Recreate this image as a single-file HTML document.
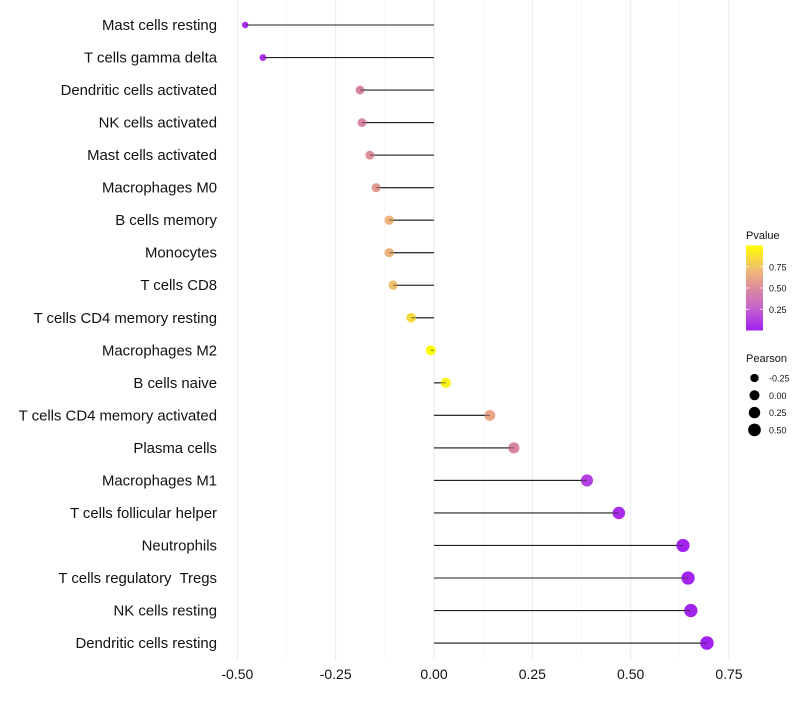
<!DOCTYPE html>
<html><head><meta charset="utf-8"><style>
body{margin:0;background:#fff;}
svg{font-family:"Liberation Sans",sans-serif;}
</style></head><body>
<svg id="c" width="800" height="700"></svg>
<script>
const categories=["Mast cells resting","T cells gamma delta","Dendritic cells activated","NK cells activated","Mast cells activated","Macrophages M0","B cells memory","Monocytes","T cells CD8","T cells CD4 memory resting","Macrophages M2","B cells naive","T cells CD4 memory activated","Plasma cells","Macrophages M1","T cells follicular helper","Neutrophils","T cells regulatory  Tregs","NK cells resting","Dendritic cells resting"];
const pearson=[-0.48,-0.435,-0.188,-0.183,-0.163,-0.147,-0.114,-0.114,-0.104,-0.058,-0.008,0.03,0.142,0.203,0.389,0.47,0.633,0.646,0.653,0.694];
const pvalue=[0.05,0.08,0.45,0.47,0.52,0.56,0.68,0.68,0.72,0.84,0.99,0.94,0.62,0.46,0.12,0.05,0.02,0.02,0.02,0.01];
const xTicks=[-0.5,-0.25,0,0.25,0.5,0.75];
const xTickLabels=["-0.50","-0.25","0.00","0.25","0.50","0.75"];
const pTicks=[0.25,0.5,0.75];
const sizeTicks=[-0.25,0,0.25,0.5];
const NS="http://www.w3.org/2000/svg";
const svg=document.getElementById('c');
function el(t,a,p){const e=document.createElementNS(NS,t);for(const k in a)e.setAttribute(k,a[k]);(p||svg).appendChild(e);return e;}
const x=v=>434+v*393.3;
const y=i=>25+i*32.53;
const stops=[[0,[160,32,240]],[0.25,[196,96,208]],[0.5,[220,140,156]],[0.7,[240,184,120]],[1,[255,255,0]]];
const col=p=>{for(let k=1;k<stops.length;k++){if(p<=stops[k][0]){const [p0,a]=stops[k-1],[p1,b]=stops[k];const f=(p-p0)/(p1-p0);return `rgb(${a.map((c,i)=>Math.round(c+(b[i]-c)*f)).join(',')})`;}}return 'rgb(255,255,0)';};
const rad=v=>Math.sqrt(Math.max(5,25+30*v));
for(let i=0;i<xTicks.length;i++){
  const g=el('line',{x1:x(xTicks[i]),x2:x(xTicks[i]),y1:0,y2:660,stroke:'#ebebeb','stroke-width':1});
  
  if(i<xTicks.length-1){const m=(xTicks[i]+xTicks[i+1])/2;
    const g2=el('line',{x1:x(m),x2:x(m),y1:0,y2:660,stroke:'#f3f3f3','stroke-width':0.6});
    }
  const t=el('text',{x:x(xTicks[i]),y:679,'text-anchor':'middle','font-size':14,fill:'#111'});
  t.textContent=xTickLabels[i];
  
}
categories.forEach((c,i)=>{
  const t=el('text',{x:217,y:y(i)+5,'text-anchor':'end','font-size':14.9,fill:'#111',style:'white-space:pre'});
  t.textContent=c;
  
  const l=el('line',{x1:x(0),x2:x(pearson[i]),y1:y(i),y2:y(i),stroke:'#222','stroke-width':1.1});
  
  const d=el('circle',{cx:x(pearson[i]),cy:y(i),r:rad(pearson[i]),fill:col(pvalue[i])});
  
  const l2=el('line',{x1:x(0),x2:x(pearson[i]),y1:y(i),y2:y(i),stroke:'#222','stroke-width':1,'stroke-opacity':0.6});
  
});
let t=el('text',{x:746,y:239,'font-size':11,fill:'#111'});t.textContent='Pvalue';

const defs=el('defs',{});const lg=el('linearGradient',{id:'pg',x1:0,y1:1,x2:0,y2:0},defs);
for(let k=0;k<=10;k++){el('stop',{offset:k/10,'stop-color':col(k/10)},lg);}
const cb=el('rect',{x:746,y:245.5,width:17,height:85,fill:'url(#pg)'});

const py=p=>330.5-p*85;
pTicks.forEach(p=>{
  el('line',{x1:746,x2:749,y1:py(p),y2:py(p),stroke:'#fff','stroke-width':0.8});
  el('line',{x1:760,x2:763,y1:py(p),y2:py(p),stroke:'#fff','stroke-width':0.8});
  const tt=el('text',{x:769,y:py(p)+3.5,'font-size':9,fill:'#111'});tt.textContent=p.toFixed(2);
  
});
t=el('text',{x:746,y:362,'font-size':11,fill:'#111'});t.textContent='Pearson';

sizeTicks.forEach((s,i)=>{
  const cy=378+i*17.3;
  const c=el('circle',{cx:754.5,cy:cy,r:rad(s),fill:'#000'});
  
  const tt=el('text',{x:769,y:cy+3.5,'font-size':9,fill:'#111'});tt.textContent=s.toFixed(2);
  
});
</script>
</body></html>
